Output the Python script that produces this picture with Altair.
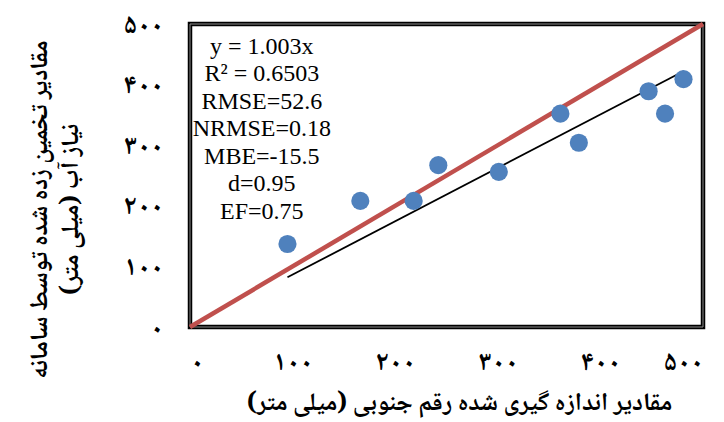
import altair as alt
import pandas as pd

# Measured (x) vs. estimated (y) water requirement, mm
measured = [95, 166, 218, 242, 301, 361, 379, 447, 463, 481]
estimated = [137, 208, 208, 267, 256, 352, 304, 389, 352, 409]

# 1:1 reference line and fitted trend line end points
one_to_one_x = [0, 500]
one_to_one_y = [0, 500]
trend_x = [95, 481]
trend_y = [82, 422]

# Axis ticks with Persian digits
tick_values = [0, 100, 200, 300, 400, 500]
tick_labels = ["۰", "۱۰۰", "۲۰۰", "۳۰۰", "۴۰۰", "۵۰۰"]

stats_lines = [
    "y = 1.003x",
    "R² = 0.6503",
    "RMSE=52.6",
    "NRMSE=0.18",
    "MBE=-15.5",
    "d=0.95",
    "EF=0.75",
]
stats_x = [70]
stats_y = [482]

x_title = "مقادیر اندازه گیری شده رقم جنوبی (میلی متر)"
y_title = ["مقادیر تخمین زده شده توسط سامانه", "نیاز آب (میلی متر)"]

label_expr = "".join(
    f"datum.value == {v} ? '{t}' : " for v, t in zip(tick_values, tick_labels)
) + "''"

points_df = pd.DataFrame({"measured": measured, "estimated": estimated})
line11_df = pd.DataFrame({"measured": one_to_one_x, "estimated": one_to_one_y})
trend_df = pd.DataFrame({"measured": trend_x, "estimated": trend_y})
frame_df = pd.DataFrame({"x0": [0], "x1": [500], "y0": [0], "y1": [500]})
stats_df = pd.DataFrame({"x": stats_x, "y": stats_y, "text": [stats_lines]})

persian_font = "Noto Naskh Arabic, Noto Sans Arabic, DejaVu Sans"

x_scale = alt.Scale(domain=[0, 500], nice=False, zero=False)
y_scale = alt.Scale(domain=[0, 500], nice=False, zero=False)

x_axis = alt.Axis(
    values=tick_values,
    labelExpr=label_expr,
    ticks=False,
    domain=False,
    grid=False,
    labelPadding=21,
    labelFont=persian_font,
    labelFontSize=27,
    labelFontWeight="bold",
    labelColor="#000",
    title=x_title,
    titleFont=persian_font,
    titleFontSize=25,
    titleFontWeight="bold",
    titleColor="#000",
    titleX=269,
    titleY=74,
    titleBaseline="middle",
    titleAnchor="middle",
)
y_axis = alt.Axis(
    values=tick_values,
    labelExpr=label_expr,
    ticks=False,
    domain=False,
    grid=False,
    labelPadding=27,
    labelFont=persian_font,
    labelFontSize=27,
    labelFontWeight="bold",
    labelColor="#000",
    title=y_title,
    titleFont=persian_font,
    titleFontSize=25,
    titleFontWeight="bold",
    titleColor="#000",
    titleAngle=-90,
    titleX=-152,
    titleY=185,
    titleBaseline="middle",
    titleLineHeight=31,
)


def xq(field):
    return alt.X(f"{field}:Q", scale=x_scale, axis=x_axis)


def yq(field):
    return alt.Y(f"{field}:Q", scale=y_scale, axis=y_axis)


trend = alt.Chart(trend_df).mark_line(color="#000000", strokeWidth=1.8).encode(
    x=xq("measured"), y=yq("estimated")
)

inner_frame = alt.Chart(frame_df).mark_rect(
    fill=None, stroke="#8c8c8c", strokeWidth=1
).encode(x=xq("x0"), x2="x1:Q", y=yq("y0"), y2="y1:Q")

one_to_one = alt.Chart(line11_df).mark_line(
    color="#C0504D", strokeWidth=4.5
).encode(x=xq("measured"), y=yq("estimated"))

points = alt.Chart(points_df).mark_circle(
    size=330, color="#4F81BD", opacity=1
).encode(x=xq("measured"), y=yq("estimated"))

stats = alt.Chart(stats_df).mark_text(
    font="Liberation Serif",
    fontSize=24,
    lineHeight=27.5,
    align="center",
    baseline="top",
    color="#000",
).encode(x=xq("x"), y=yq("y"), text="text")

chart = (
    alt.layer(trend, inner_frame, one_to_one, points, stats)
    .properties(
        width=513,
        height=303,
        autosize=alt.AutoSizeParams(type="none"),
        padding={"left": 190, "top": 24, "right": 21, "bottom": 95},
        background="#ffffff",
    )
    .configure_view(stroke="#000000", strokeWidth=4.5)
)

chart.save("out.html", embed_options={"renderer": "svg", "actions": False})
